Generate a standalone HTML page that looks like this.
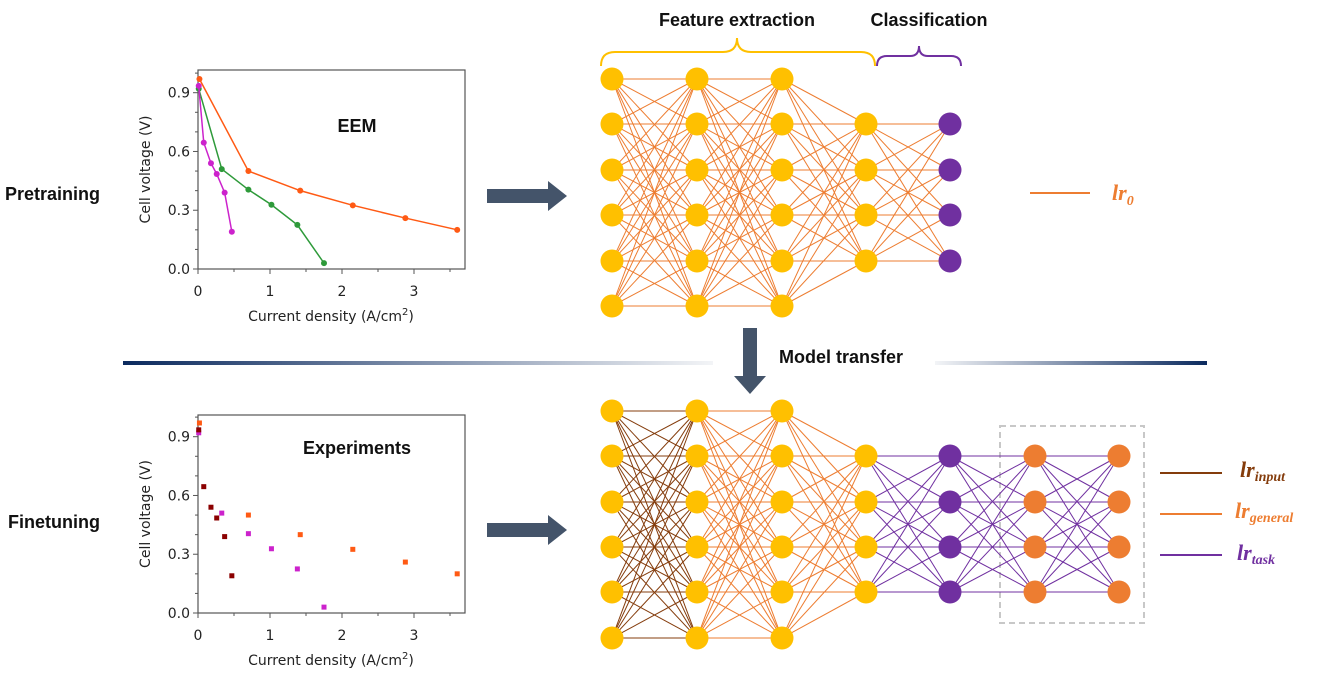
<!DOCTYPE html>
<html><head><meta charset="utf-8">
<style>
html,body{margin:0;padding:0;background:#fff;}
svg{display:block;font-family:"Liberation Sans","DejaVu Sans",sans-serif;}
</style></head>
<body>
<svg id="s" width="1325" height="681" viewBox="0 0 1325 681" xmlns="http://www.w3.org/2000/svg">
<defs>
<linearGradient id="gl" x1="0" x2="1"><stop offset="0" stop-color="#0b2a5e"/><stop offset="1" stop-color="#0b2a5e" stop-opacity="0.05"/></linearGradient>
<linearGradient id="gr" x1="0" x2="1"><stop offset="0" stop-color="#0b2a5e" stop-opacity="0.05"/><stop offset="1" stop-color="#0b2a5e"/></linearGradient>
</defs>
<rect x="123" y="361" width="590" height="4" fill="url(#gl)"/>
<rect x="935" y="361" width="272" height="4" fill="url(#gr)"/>
<text x="5" y="200" font-size="18" font-weight="bold" fill="#111">Pretraining</text>
<text x="8" y="528" font-size="18" font-weight="bold" fill="#111">Finetuning</text>
<polygon points="487,189 548,189 548,181 567,196 548,211 548,203 487,203" fill="#44546a"/>
<polygon points="487,523 548,523 548,515 567,530 548,545 548,537 487,537" fill="#44546a"/>
<polygon points="743,328 757,328 757,376 766,376 750,394 734,376 743,376" fill="#44546a"/>
<text x="779" y="363" font-size="18" font-weight="bold" fill="#111">Model transfer</text>
<text x="737" y="26" font-size="18" font-weight="bold" fill="#111" text-anchor="middle">Feature extraction</text>
<text x="929" y="26" font-size="18" font-weight="bold" fill="#111" text-anchor="middle">Classification</text>
<path d="M601,66 Q601,52 615,52 L723,52 Q737,52 737,38 Q737,52 751,52 L861,52 Q875,52 875,66" fill="none" stroke="#ffc000" stroke-width="2"/>
<path d="M877,66 Q877,56 887,56 L910,56 Q919,56 919,46 Q919,56 928,56 L951,56 Q961,56 961,66" fill="none" stroke="#7030a0" stroke-width="2"/>
<rect x="1000" y="426" width="144" height="197" fill="none" stroke="#c8c8c8" stroke-width="2" stroke-dasharray="6,4"/>
<line x1="1030" y1="193" x2="1090" y2="193" stroke="#ed7d31" stroke-width="2"/>
<text x="1112" y="200" font-size="22" font-weight="bold" font-style="italic" fill="#ed7d31" font-family="Liberation Serif,serif">lr<tspan font-size="14" dy="5">0</tspan></text>
<line x1="1160" y1="473" x2="1222" y2="473" stroke="#843c0c" stroke-width="2"/>
<text x="1240" y="477" font-size="22" font-weight="bold" font-style="italic" fill="#843c0c" font-family="Liberation Serif,serif">lr<tspan font-size="14" dy="4">input</tspan></text>
<line x1="1160" y1="514" x2="1222" y2="514" stroke="#ed7d31" stroke-width="2"/>
<text x="1235" y="518" font-size="22" font-weight="bold" font-style="italic" fill="#ed7d31" font-family="Liberation Serif,serif">lr<tspan font-size="14" dy="4">general</tspan></text>
<line x1="1160" y1="555" x2="1222" y2="555" stroke="#7030a0" stroke-width="2"/>
<text x="1237" y="560" font-size="22" font-weight="bold" font-style="italic" fill="#7030a0" font-family="Liberation Serif,serif">lr<tspan font-size="14" dy="4">task</tspan></text>
<g id="g"></g>
</svg>
<script>
var g=document.getElementById('g'),h='';
function L(a,b,c,d,col,w){h+='<line x1="'+a+'" y1="'+b+'" x2="'+c+'" y2="'+d+'" stroke="'+col+'" stroke-width="'+(w||1)+'"/>';}
function C(x,y,r,col){h+='<circle cx="'+x+'" cy="'+y+'" r="'+r+'" fill="'+col+'"/>';}
function T(x,y,t,s,a,extra){h+='<text x="'+x+'" y="'+y+'" font-size="'+s+'" text-anchor="'+(a||'start')+'" '+(extra||'')+'>'+t+'</text>';}
var O='#ed7d31',Y='#ffc000',P='#7030a0',B='#843c0c';
function net(cols,ys,ecols,ncols){
 for(var i=0;i<cols.length-1;i++)for(var a of ys[i])for(var b of ys[i+1])L(cols[i],a,cols[i+1],b,ecols[i],1);
 for(var i=0;i<cols.length;i++)for(var a of ys[i])C(cols[i],a,11.5,ncols[i]);
}
var six=[79,124,170,215,261,306],four=[124,170,215,261];
net([612,697,782,866,950],[six,six,six,four,four],[O,O,O,O],[Y,Y,Y,Y,P]);
var six2=[411,456,502,547,592,638],four2=[456,502,547,592];
net([612,697,782,866,950,1035,1119],[six2,six2,six2,four2,four2,four2,four2],[B,O,O,P,P,P],[Y,Y,Y,Y,P,O,O]);
var DF='font-family="DejaVu Sans,sans-serif" fill="#222"';
function plot(top,bot,y09,lab,lx,ly,series,sq){
 var x0=198,xr=465,ppx=72,y0=bot,pv=(y0-y09)/0.9;
 h+='<rect x="'+x0+'" y="'+top+'" width="'+(xr-x0)+'" height="'+(bot-top)+'" fill="none" stroke="#555" stroke-width="1.2"/>';
 for(var v=0;v<=1.0001;v+=0.1){var y=y0-v*pv;if(y<top)break;var maj=Math.round(v*10)%3==0;L(x0-(maj?5:3),y,x0,y,'#555',1);if(maj)T(x0-8,y+5,v.toFixed(1),14,'end',DF);}
 for(var u=0;u<=3.5;u+=0.5){var x=x0+u*ppx;var maj=(u%1==0);L(x,bot,x,bot+(maj?5:3),'#555',1);if(maj)T(x,bot+27,u,14,'middle',DF);}
 T(331,bot+52,'Current density (A/cm<tspan font-size="10" dy="-6">2</tspan><tspan dy="6">)</tspan>',14,'middle',DF);
 T(0,0,'Cell voltage (V)',14,'middle',DF+' transform="translate(150,'+((top+bot)/2)+') rotate(-90)"');
 T(lx,ly,lab,18,'middle','font-weight="bold" fill="#111"');
 for(var s of series){var pts=s.d.map(p=>[x0+p[0]*ppx,y0-p[1]*pv]);
  if(!sq)h+='<polyline points="'+pts.map(p=>p.join(',')).join(' ')+'" fill="none" stroke="'+s.c+'" stroke-width="1.5"/>';
  for(var p of pts){if(sq)h+='<rect x="'+(p[0]-2.5)+'" y="'+(p[1]-2.5)+'" width="5" height="5" fill="'+s.c2+'"/>';else C(p[0],p[1],3,s.c);}
 }
}
var Od=[[0.02,0.97],[0.7,0.5],[1.42,0.4],[2.15,0.325],[2.88,0.26],[3.6,0.2]];
var Gd=[[0.01,0.92],[0.33,0.51],[0.7,0.405],[1.02,0.328],[1.38,0.225],[1.75,0.03]];
var Md=[[0.01,0.935],[0.08,0.645],[0.18,0.54],[0.26,0.485],[0.37,0.39],[0.47,0.19]];
plot(70,269,92.7,'EEM',357,132,[{d:Od,c:'#ff5a14'},{d:Gd,c:'#2e9a3a'},{d:Md,c:'#cc22cc'}],false);
plot(415,613,436.7,'Experiments',357,454,[{d:Od,c2:'#ff5a14'},{d:Gd,c2:'#cc22cc'},{d:Md,c2:'#8b0000'}],true);
g.innerHTML=h;
</script>
</body></html>
